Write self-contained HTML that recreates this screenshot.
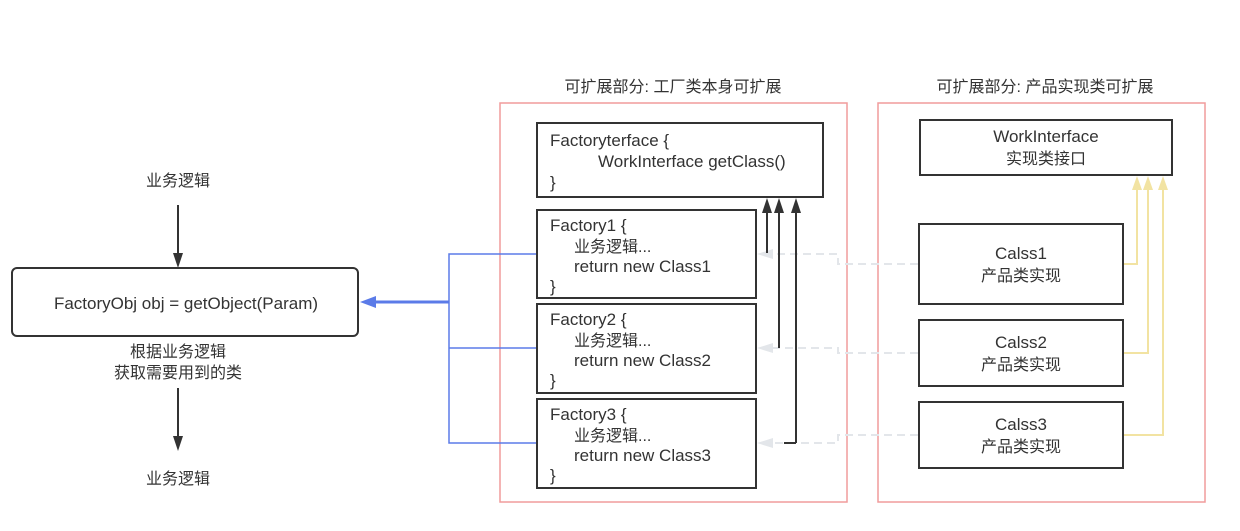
<!DOCTYPE html>
<html><head><meta charset="utf-8"><style>
html,body{margin:0;padding:0;background:#fff;}
svg{display:block;font-family:"Liberation Sans","Noto Sans CJK SC",sans-serif;}
text{fill:#333;font-size:16px;}
.l{font-size:17px;}
</style></head><body>
<svg width="1240" height="531" viewBox="0 0 1240 531">
<text x="673" y="92" text-anchor="middle" font-size="15">可扩展部分: 工厂类本身可扩展</text>
<text x="1045" y="92" text-anchor="middle" font-size="15">可扩展部分: 产品实现类可扩展</text>
<rect x="500" y="103" width="347" height="399" fill="none" stroke="#f19c9c" stroke-width="1.5"/>
<rect x="878" y="103" width="327" height="399" fill="none" stroke="#f19c9c" stroke-width="1.5"/>
<!-- gray dashed -->
<g fill="none" stroke="#e3e6ea" stroke-width="2" stroke-dasharray="8,5">
<polyline points="918,264 838,264 838,254 770,254"/>
<polyline points="918,353 838,353 838,348 770,348"/>
<polyline points="918,435 838,435 838,443 770,443"/>
</g>
<g fill="#e3e6ea">
<polygon points="757,254 773,249 773,259"/>
<polygon points="757,348 773,343 773,353"/>
<polygon points="757,443 773,438 773,448"/>
</g>
<!-- black arrows -->
<g stroke="#333" stroke-width="2" fill="none">
<line x1="767" y1="253" x2="767" y2="210"/>
<line x1="779" y1="348" x2="779" y2="210"/>
<line x1="796" y1="443" x2="796" y2="210"/>
<line x1="784" y1="443" x2="796" y2="443"/>
</g>
<g fill="#333">
<polygon points="767,198 762,213 772,213"/>
<polygon points="779,198 774,213 784,213"/>
<polygon points="796,198 791,213 801,213"/>
</g>
<!-- yellow -->
<g stroke="#f2e3a2" stroke-width="2" fill="none">
<polyline points="1123,264 1137,264 1137,188"/>
<polyline points="1123,353 1148,353 1148,188"/>
<polyline points="1123,435 1163,435 1163,188"/>
</g>
<g fill="#f2e3a2">
<polygon points="1137,176 1132,190 1142,190"/>
<polygon points="1148,176 1143,190 1153,190"/>
<polygon points="1163,176 1158,190 1168,190"/>
</g>
<!-- blue -->
<g stroke="#5b7be8" stroke-width="1.5" fill="none">
<polyline points="537,254 449,254 449,443 537,443"/>
<line x1="449" y1="348" x2="537" y2="348"/>
<line x1="449" y1="302" x2="372" y2="302" stroke-width="3"/>
</g>
<polygon points="360,302 376,296 376,308" fill="#5b7be8"/>
<g fill="#fff" stroke="#333" stroke-width="2">
<rect x="537" y="123" width="286" height="74"/>
<rect x="537" y="210" width="219" height="88"/>
<rect x="537" y="304" width="219" height="89"/>
<rect x="537" y="399" width="219" height="89"/>
<rect x="920" y="120" width="252" height="55"/>
<rect x="919" y="224" width="204" height="80"/>
<rect x="919" y="320" width="204" height="66"/>
<rect x="919" y="402" width="204" height="66"/>
<rect x="12" y="268" width="346" height="68" rx="5"/>
</g>
<text class="l" x="550" y="146">Factoryterface {</text>
<text class="l" x="598" y="167">WorkInterface getClass()</text>
<text class="l" x="550" y="188">}</text>
<text class="l" x="550" y="231">Factory1 {</text><text x="574" y="252">业务逻辑...</text><text class="l" x="574" y="272">return new Class1</text><text class="l" x="550" y="292">}</text>
<text class="l" x="550" y="325">Factory2 {</text><text x="574" y="346">业务逻辑...</text><text class="l" x="574" y="366">return new Class2</text><text class="l" x="550" y="386">}</text>
<text class="l" x="550" y="420">Factory3 {</text><text x="574" y="441">业务逻辑...</text><text class="l" x="574" y="461">return new Class3</text><text class="l" x="550" y="481">}</text>
<text class="l" x="1046" y="142" text-anchor="middle">WorkInterface</text>
<text x="1046" y="164" text-anchor="middle">实现类接口</text>
<text class="l" x="1021" y="259" text-anchor="middle">Calss1</text><text x="1021" y="281" text-anchor="middle">产品类实现</text>
<text class="l" x="1021" y="348" text-anchor="middle">Calss2</text><text x="1021" y="370" text-anchor="middle">产品类实现</text>
<text class="l" x="1021" y="430" text-anchor="middle">Calss3</text><text x="1021" y="452" text-anchor="middle">产品类实现</text>
<text class="l" x="186" y="309" text-anchor="middle">FactoryObj obj = getObject(Param)</text>
<text x="178" y="186" text-anchor="middle">业务逻辑</text>
<text x="178" y="357" text-anchor="middle">根据业务逻辑</text>
<text x="178" y="378" text-anchor="middle">获取需要用到的类</text>
<text x="178" y="484" text-anchor="middle">业务逻辑</text>
<g stroke="#333" stroke-width="2">
<line x1="178" y1="205" x2="178" y2="255"/>
<line x1="178" y1="388" x2="178" y2="438"/>
</g>
<g fill="#333">
<polygon points="178,268 173,253 183,253"/>
<polygon points="178,451 173,436 183,436"/>
</g>
</svg>
</body></html>
